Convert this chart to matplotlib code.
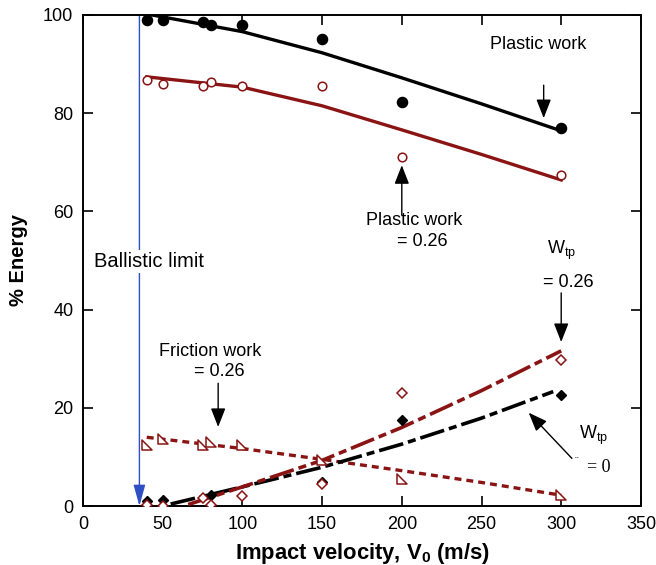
import matplotlib
matplotlib.use("Agg")
import matplotlib.pyplot as plt
from matplotlib.path import Path

plt.rcParams["font.family"] = ["Liberation Sans", "DejaVu Sans"]
plt.rcParams["mathtext.fontset"] = "custom"
plt.rcParams["mathtext.rm"] = "Liberation Sans"
plt.rcParams["mathtext.bf"] = "Liberation Sans:bold"
plt.rcParams["mathtext.it"] = "Liberation Sans:italic"
plt.rcParams["lines.scale_dashes"] = False

DARK_RED = "#8a1414"
BLUE = "#2f4fc4"

# Measured energy fractions (%)
v_plastic = [40, 50, 75, 80, 100, 150, 200, 300]
plastic_wtp0 = [98.9, 98.9, 98.5, 98.0, 98.0, 95.2, 82.3, 77.0]
plastic_wtp026 = [86.8, 85.9, 85.5, 86.3, 85.5, 85.6, 71.1, 67.4]

v_friction = [40, 50, 75, 80, 100, 150, 200, 300]
friction = [12.4, 13.6, 12.4, 13.1, 12.4, 9.4, 5.4, 2.2]

v_wtp0 = [40, 50, 80, 150, 200, 300]
wtp0 = [1.1, 1.2, 2.2, 4.8, 17.5, 22.7]

v_wtp026 = [40, 50, 75, 80, 100, 150, 200, 300]
wtp026 = [0.2, 0.0, 1.7, 0.2, 2.0, 4.4, 23.0, 29.7]

# Model curves
v_fit = [40, 100, 150, 200, 250, 300]
plastic_fit_wtp0 = [100.2, 96.6, 92.3, 87.2, 81.9, 76.4]
plastic_fit_wtp026 = [87.4, 85.3, 81.5, 76.6, 71.6, 66.4]
friction_fit = [14.0, 11.7, 9.5, 7.2, 4.8, 2.2]

v_wtp0_fit = [55, 100, 150, 200, 250, 295]
wtp0_fit = [0.4, 3.9, 7.9, 12.6, 17.9, 23.3]

v_wtp026_fit = [66, 100, 150, 200, 250, 300]
wtp026_fit = [0.3, 3.9, 9.3, 16.0, 23.5, 31.6]

ballistic_limit = 35.4

fig = plt.figure(figsize=(6.56, 5.65), dpi=100)
ax = fig.add_axes([0.1265, 0.1044, 0.8505, 0.8691])

# right-angled triangle marker
tri = Path([(-1, 1), (-1, -1), (1, -1), (-1, 1)],
           [Path.MOVETO, Path.LINETO, Path.LINETO, Path.CLOSEPOLY])

long_short = (0, (18, 3.6, 5.8, 3.6))

ax.plot(v_fit, plastic_fit_wtp0, color="black", lw=2.4, zorder=3)
ax.plot(v_fit, plastic_fit_wtp026, color=DARK_RED, lw=2.4, zorder=3)
ax.plot(v_fit, friction_fit, color=DARK_RED, lw=2.4,
        linestyle=(0, (5, 3.6)), zorder=3)
ax.plot(v_wtp0_fit, wtp0_fit, color="black", lw=2.6,
        linestyle=long_short, zorder=3)
ax.plot(v_wtp026_fit, wtp026_fit, color=DARK_RED, lw=2.6,
        linestyle=long_short, zorder=3)

ax.plot(v_plastic, plastic_wtp0, "o", color="black", ms=7.3, zorder=5)
ax.plot(v_plastic, plastic_wtp026, "o", mfc="white", mec=DARK_RED,
        mew=1.1, ms=6.2, zorder=5)
ax.plot(v_friction, friction, marker=tri, ls="none", mfc="white",
        mec=DARK_RED, mew=1.1, ms=6.5, zorder=5)
ax.plot(v_wtp0, wtp0, "D", color="black", ms=5.5, zorder=5)
ax.plot(v_wtp026, wtp026, "D", mfc="white", mec=DARK_RED, mew=1.1,
        ms=5.5, zorder=6)

ax.set_xlim(0, 350)
ax.set_ylim(0, 100)
ax.set_xticks(range(0, 351, 50))
ax.set_yticks(range(0, 101, 20))
ax.tick_params(direction="in", length=7, width=1.2, labelsize=13,
               top=True, right=True, pad=7)
for s in ax.spines.values():
    s.set_linewidth(1.4)

ax.set_xlabel(r"Impact velocity, V$_\mathbf{0}$ (m/s)", fontsize=15.8,
              fontweight="bold", labelpad=6)
ax.set_ylabel("% Energy", fontsize=14.5, fontweight="bold", labelpad=11)

# ballistic limit marker
ax.annotate("", xy=(ballistic_limit, 0), xytext=(ballistic_limit, 100),
            arrowprops=dict(arrowstyle="-|>,head_length=1.3,head_width=0.36",
                            mutation_scale=10, color=BLUE, lw=1.0,
                            shrinkA=0, shrinkB=0), zorder=2)
ax.text(6.9, 49.7, "Ballistic limit", fontsize=14.5, ha="left", va="center",
        bbox=dict(facecolor="white", edgecolor="none", pad=1.5), zorder=4)

arrow_kw = dict(arrowstyle="-|>,head_length=1.15,head_width=0.45",
                mutation_scale=10, color="black", lw=1.0,
                shrinkA=0, shrinkB=0)

ax.text(285.6, 93.9, "Plastic work", fontsize=13, ha="center", va="center")
ax.annotate("", xy=(289, 79.0), xytext=(289, 85.7), arrowprops=arrow_kw)

ax.text(208, 56.0, "Plastic work\n   = 0.26", fontsize=13, ha="center",
        va="center", linespacing=1.35)
ax.annotate("", xy=(200, 69.4), xytext=(200, 59.3), arrowprops=arrow_kw)

ax.text(300, 52.0, "W$_{\\mathrm{tp}}$", fontsize=13, ha="center",
        va="center")
ax.text(304.5, 45.6, "= 0.26", fontsize=13, ha="center", va="center")
ax.annotate("", xy=(300, 33.4), xytext=(300, 43.4), arrowprops=arrow_kw)

ax.text(80, 31.4, "Friction work", fontsize=13, ha="center", va="center")
ax.text(85.6, 27.3, "= 0.26", fontsize=13, ha="center", va="center")
ax.annotate("", xy=(84.8, 16.1), xytext=(84.8, 25.0), arrowprops=arrow_kw)

ax.text(320, 14.3, "W$_{\\mathrm{tp}}$", fontsize=13, ha="center",
        va="center")
ax.text(309.5, 8.8, "\u00a8", fontsize=8, ha="center", va="center",
        family=["Liberation Serif", "DejaVu Serif"])
ax.text(323.5, 7.8, "= 0", fontsize=13, ha="center", va="center",
        family=["Liberation Serif", "DejaVu Serif"])
ax.annotate("", xy=(279.6, 19.0), xytext=(306.7, 9.7), arrowprops=arrow_kw)

fig.savefig("out.png", dpi=100)
